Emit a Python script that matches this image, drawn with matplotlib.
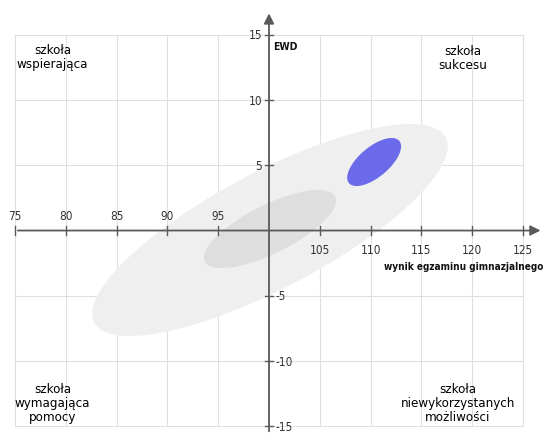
import matplotlib.pyplot as plt
import numpy as np

# axis ticks
x_ticks = [75, 80, 85, 90, 95, 105, 110, 115, 120, 125]
y_ticks = [15, 10, 5, -5, -10, -15]

# ellipses: center x, center y, spread x, spread y, correlation
ell_names = ['large', 'core', 'school']
ell_cx = [100.1, 100.1, 110.35]
ell_cy = [0.04, 0.12, 5.25]
ell_sx = [17.5, 6.5, 2.65]
ell_sy = [8.12, 2.99, 1.84]
ell_rho = [0.79, 0.73, 0.65]
ell_colors = ['#efefef', '#dedede', '#6a6aea']

quad_labels = ['szkoła\nwspierająca', 'szkoła\nsukcesu',
               'szkoła\nwymagająca\npomocy', 'szkoła\nniewykorzystanych\nmożliwości']
quad_x = [78.7, 119.1, 78.7, 118.6]
quad_y = [13.33, 13.26, -13.2, -13.2]

fig = plt.figure(figsize=(5.45, 4.35), dpi=100)
ax = fig.add_axes([0, 0, 1, 1])
ax.set_xlim(73.52, 127.17)
ax.set_ylim(-15.59, 17.74)
ax.axis('off')

# grid
for x in x_ticks + [100]:
    ax.plot([x, x], [-15, 15], color='#e0e0e0', lw=0.8, zorder=1)
for y in y_ticks:
    ax.plot([75, 125], [y, y], color='#e0e0e0', lw=0.8, zorder=1)

# ellipses
t = np.linspace(0, 2 * np.pi, 300)
for cx, cy, sx, sy, r, c in zip(ell_cx, ell_cy, ell_sx, ell_sy, ell_rho, ell_colors):
    ex = cx + sx * np.cos(t)
    ey = cy + sy * (r * np.cos(t) + np.sqrt(1 - r ** 2) * np.sin(t))
    ax.fill(ex, ey, color=c, lw=0, zorder=2)

# axes with arrows
axc = '#5a5a5a'
ax.annotate('', xy=(127.0, 0), xytext=(75, 0),
            arrowprops=dict(arrowstyle='-|>', color=axc, lw=1.3, mutation_scale=15), zorder=3)
ax.annotate('', xy=(100, 16.85), xytext=(100, -15.6),
            arrowprops=dict(arrowstyle='-|>', color=axc, lw=1.3, mutation_scale=15), zorder=3)

tick_font = dict(family='DejaVu Sans', fontstretch='condensed', fontsize=8.5, color='#333333')
for x in x_ticks:
    ax.plot([x, x], [-0.35, 0.35], color=axc, lw=1.0, zorder=3)
    if x < 100:
        ax.annotate(str(x), (x, 0), xytext=(0, 11), textcoords='offset points',
                    ha='center', va='center', **tick_font)
    else:
        ax.annotate(str(x), (x, 0), xytext=(0, -14), textcoords='offset points',
                    ha='center', va='center', **tick_font)
for y in y_ticks:
    ax.plot([99.6, 100.4], [y, y], color=axc, lw=1.0, zorder=3)
    if y > 0:
        ax.annotate(str(y), (100, y), xytext=(-5, 0), textcoords='offset points',
                    ha='right', va='center', **tick_font)
    else:
        ax.annotate(str(y), (100, y), xytext=(5, 0), textcoords='offset points',
                    ha='left', va='center', **tick_font)

ax.text(100.45, 14.15, 'EWD', fontsize=7.5, fontweight='bold', fontstretch='condensed',
        color='#111111', ha='left', va='center')
ax.text(126.97, -2.75, 'wynik egzaminu gimnazjalnego', fontsize=7.2, fontweight='bold',
        fontstretch='condensed', color='#111111', ha='right', va='center')

for lab, qx, qy in zip(quad_labels, quad_x, quad_y):
    ax.text(qx, qy, lab, fontsize=9.5, fontstretch='condensed', color='#000000',
            ha='center', va='center', linespacing=1.1)

plt.savefig('out.png', dpi=100)
